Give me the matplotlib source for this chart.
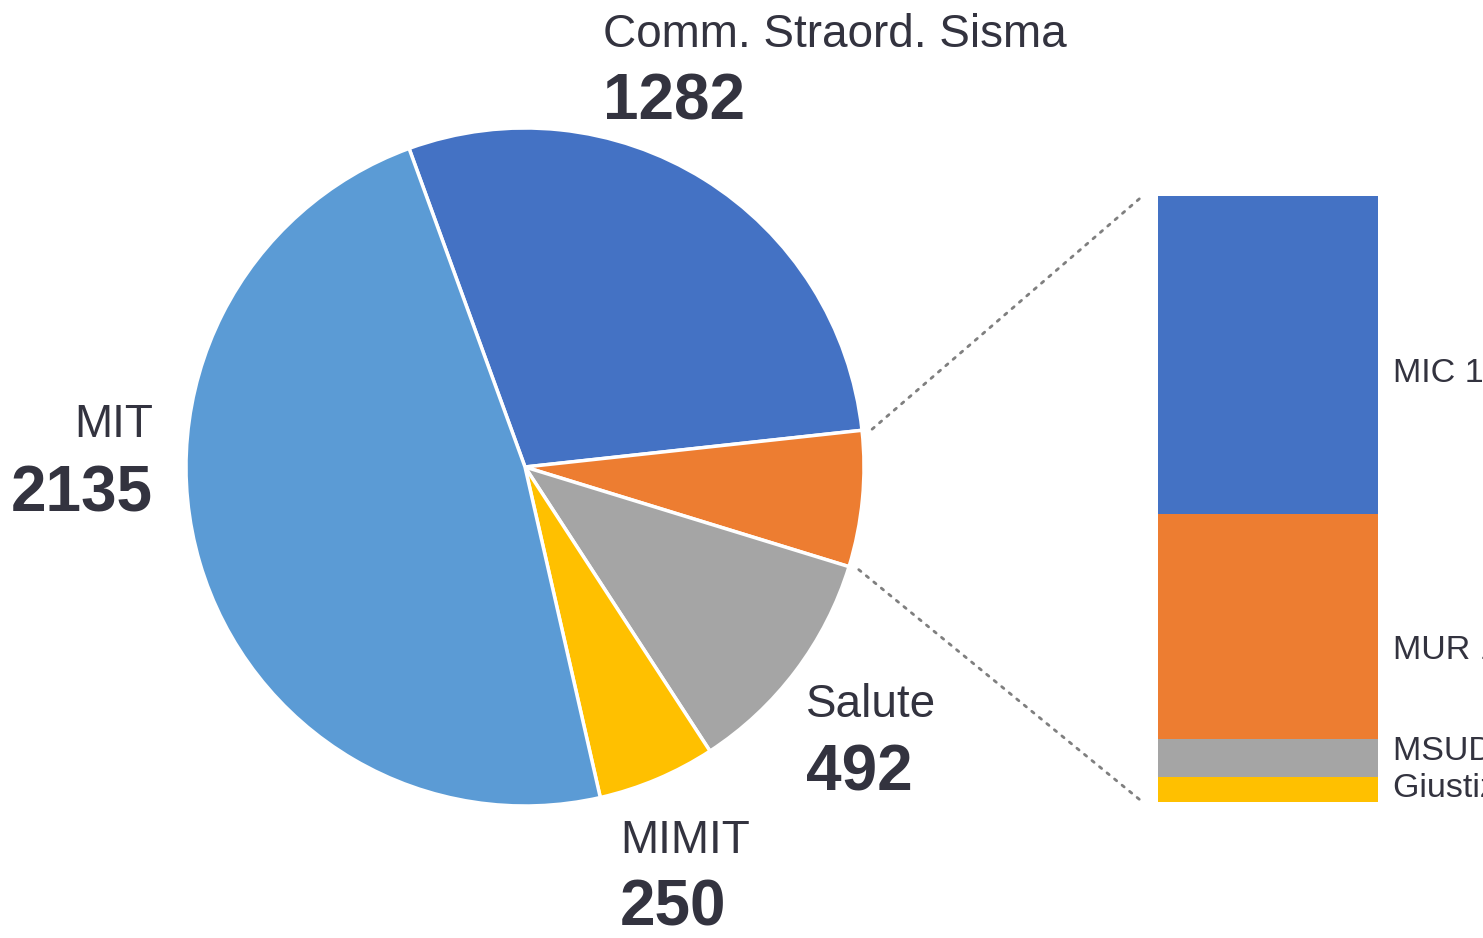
import matplotlib.pyplot as plt
import numpy as np
from matplotlib.patches import ConnectionPatch

plt.rcParams['font.family'] = ['Liberation Sans', 'DejaVu Sans']

# pie data (the orange slice is the sum of the bar)
pie_labels = ['Comm. Straord. Sisma', 'Altri', 'Salute', 'MIMIT', 'MIT']
pie_values = [1282, 288, 492, 250, 2135]
pie_colors = ['#4472C4', '#ED7D31', '#A5A5A5', '#FFC000', '#5B9BD5']

# bar of pie data (bottom to top)
bar_labels = ['Giustizia', 'MSUD', 'MUR', 'MIC']
bar_values = [12, 18, 107, 151]
bar_colors = ['#FFC000', '#A5A5A5', '#ED7D31', '#4472C4']

txt = '#33333F'

fig = plt.figure(figsize=(14.83, 9.38), dpi=100)
ax = fig.add_axes([0, 0, 1, 1])

cx, cy, R = 525, 471, 339
wedges, _ = ax.pie(pie_values, colors=pie_colors, startangle=110, counterclock=False,
                   center=(cx, cy), radius=R, frame=True,
                   wedgeprops=dict(edgecolor='white', linewidth=2.5))
ax.set_xlim(0, 1483)
ax.set_ylim(0, 938)
ax.set_aspect('equal')
ax.axis('off')

# pie labels: x, name y, value y, alignment
lab_pos = {
    'Comm. Straord. Sisma': (603, 903, 836, 'left'),
    'Salute': (806, 233, 165, 'left'),
    'MIMIT': (620, 97, 30, 'left'),
    'MIT': (153, 513, 444, 'right'),
}
for name, val in zip(pie_labels, pie_values):
    if name not in lab_pos:
        continue
    x, y1, y2, ha = lab_pos[name]
    ax.text(x, y1, name, fontsize=33, color=txt, ha=ha, va='center')
    ax.text(x, y2, str(val), fontsize=46, color=txt, ha=ha, va='center', fontweight='bold')

# stacked bar
bx = fig.add_axes([1158 / 1483, 136 / 938, 220 / 1483, 606 / 938])
bottom = 0
for lab, v, c in zip(bar_labels, bar_values, bar_colors):
    bx.bar(0, v, width=1, bottom=bottom, color=c, linewidth=0)
    bottom += v
bx.set_xlim(-0.5, 0.5)
bx.set_ylim(0, sum(bar_values))
bx.axis('off')

# bar labels (cut off by the right edge, as in the original)
lab_y = {'MIC': 203.5, 'MUR': 72, 'MSUD': 24, 'Giustizia': 6.5}
for lab, v in zip(bar_labels, bar_values):
    bx.text(0.57, lab_y[lab], f'{lab} {v}', fontsize=24.5, color=txt,
            ha='left', va='center', clip_on=False)

# dotted connectors from the orange slice to the bar
w = wedges[1]
for ang, yb in [(w.theta2, 1), (w.theta1, 0)]:
    r = R * 1.03
    xa = cx + r * np.cos(np.radians(ang))
    ya = cy + r * np.sin(np.radians(ang))
    con = ConnectionPatch(xyA=(xa, ya), coordsA=ax.transData,
                          xyB=(-0.07, yb), coordsB=bx.transAxes,
                          linestyle=(0, (1, 2.5)), color='#7F7F7F', linewidth=2)
    fig.add_artist(con)

fig.savefig('out.png', dpi=100)
